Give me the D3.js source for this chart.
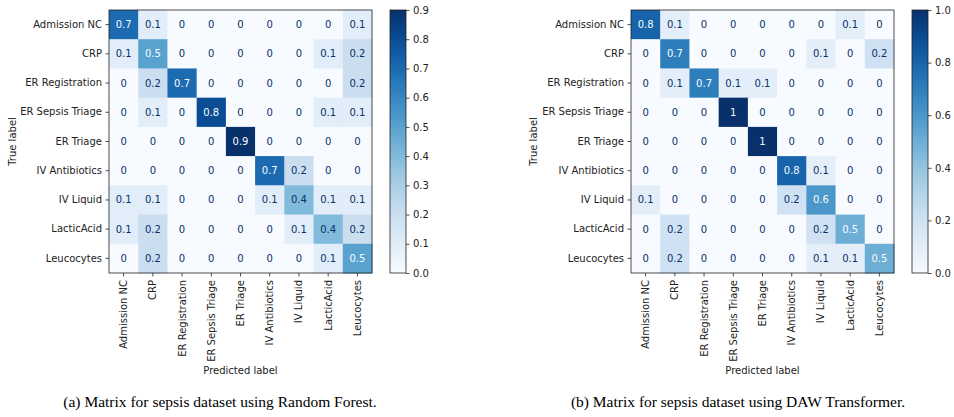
<!DOCTYPE html>
<html>
<head>
<meta charset="utf-8">
<script src="https://cdn.jsdelivr.net/npm/d3@7"></script>
<style>
  body { margin: 0; background: #fff; }
  svg { display: block; }
</style>
</head>
<body>
<div id="vis"></div>
<script>
// Two confusion matrices side by side (sklearn-style, Blues colormap)

const labels = ["Admission NC", "CRP", "ER Registration", "ER Sepsis Triage", "ER Triage",
                "IV Antibiotics", "IV Liquid", "LacticAcid", "Leucocytes"];

// rows = true label, cols = predicted label
const rfMatrix = [
  [0.7, 0.1, 0,   0,   0,   0,   0,   0,   0.1],
  [0.1, 0.5, 0,   0,   0,   0,   0,   0.1, 0.2],
  [0,   0.2, 0.7, 0,   0,   0,   0,   0,   0.2],
  [0,   0.1, 0,   0.8, 0,   0,   0,   0.1, 0.1],
  [0,   0,   0,   0,   0.9, 0,   0,   0,   0  ],
  [0,   0,   0,   0,   0,   0.7, 0.2, 0,   0  ],
  [0.1, 0.1, 0,   0,   0,   0.1, 0.4, 0.1, 0.1],
  [0.1, 0.2, 0,   0,   0,   0,   0.1, 0.4, 0.2],
  [0,   0.2, 0,   0,   0,   0,   0,   0.1, 0.5]
];

const dawMatrix = [
  [0.8, 0.1, 0,   0,   0,   0,   0,   0.1, 0  ],
  [0,   0.7, 0,   0,   0,   0,   0.1, 0,   0.2],
  [0,   0.1, 0.7, 0.1, 0.1, 0,   0,   0,   0  ],
  [0,   0,   0,   1,   0,   0,   0,   0,   0  ],
  [0,   0,   0,   0,   1,   0,   0,   0,   0  ],
  [0,   0,   0,   0,   0,   0.8, 0.1, 0,   0  ],
  [0.1, 0,   0,   0,   0,   0.2, 0.6, 0,   0  ],
  [0,   0.2, 0,   0,   0,   0,   0.2, 0.5, 0  ],
  [0,   0.2, 0,   0,   0,   0,   0.1, 0.1, 0.5]
];

const rfTicks  = [0, 0.1, 0.2, 0.3, 0.4, 0.5, 0.6, 0.7, 0.8, 0.9];
const dawTicks = [0, 0.2, 0.4, 0.6, 0.8, 1.0];

const captions = ["(a) Matrix for sepsis dataset using Random Forest.",
                  "(b) Matrix for sepsis dataset using DAW Transformer."];

const W = 954, H = 417;
const size = 263;           // matrix side in px
const plotTop = 10;
const font = "DejaVu Sans, sans-serif";
const fs = 10;

const svg = d3.select("#vis").append("svg")
  .attr("width", W)
  .attr("height", H);

const defs = svg.append("defs");

function drawPanel(x0, matrix, ticks, vmax, caption, id, ylabelX, captionX) {
  const g = svg.append("g").attr("transform", `translate(${x0},${plotTop})`);

  const x = d3.scaleBand().domain(labels).range([0, size]);
  const y = d3.scaleBand().domain(labels).range([0, size]);
  const color = d3.scaleSequential(d3.interpolateBlues).domain([0, vmax]);
  const thresh = vmax / 2;

  const cells = [];
  matrix.forEach((row, i) => row.forEach((v, j) => cells.push({ r: labels[i], c: labels[j], v })));

  g.selectAll("rect.cell")
    .data(cells)
    .enter().append("rect")
      .attr("class", "cell")
      .attr("x", d => x(d.c))
      .attr("y", d => y(d.r))
      .attr("width", x.bandwidth() + 0.5)
      .attr("height", y.bandwidth() + 0.5)
      .attr("fill", d => color(d.v));

  g.selectAll("text.val")
    .data(cells)
    .enter().append("text")
      .attr("class", "val")
      .attr("x", d => x(d.c) + x.bandwidth() / 2)
      .attr("y", d => y(d.r) + y.bandwidth() / 2)
      .attr("dy", "0.35em")
      .attr("text-anchor", "middle")
      .attr("font-family", font)
      .attr("font-size", fs)
      .attr("fill", d => d.v < thresh ? d3.interpolateBlues(1) : d3.interpolateBlues(0))
      .text(d => d3.format("")(d.v));

  // axes
  const yAxis = g.append("g")
    .call(d3.axisLeft(y).tickSize(3.5).tickPadding(3.5));
  const xAxis = g.append("g")
    .attr("transform", `translate(0,${size})`)
    .call(d3.axisBottom(x).tickSize(3.5).tickPadding(3.5));

  [xAxis, yAxis].forEach(a => {
    a.select(".domain").remove();
    a.selectAll("text").attr("font-family", font).attr("font-size", fs).attr("fill", "#222");
    a.selectAll("line").attr("stroke", "#222").attr("stroke-width", 0.8);
  });
  xAxis.selectAll("text")
    .attr("transform", "rotate(-90)")
    .attr("text-anchor", "end")
    .attr("x", -7)
    .attr("y", 0)
    .attr("dy", "0.35em");

  g.append("rect")
    .attr("width", size).attr("height", size)
    .attr("fill", "none")
    .attr("stroke", "#222")
    .attr("stroke-width", 0.8);

  g.append("text")
    .attr("transform", `translate(${ylabelX - x0},${size / 2}) rotate(-90)`)
    .attr("text-anchor", "middle")
    .attr("dy", "0.35em")
    .attr("font-family", font)
    .attr("font-size", fs)
    .attr("fill", "#222")
    .text("True label");

  g.append("text")
    .attr("x", size / 2)
    .attr("y", 364)
    .attr("text-anchor", "middle")
    .attr("font-family", font)
    .attr("font-size", fs)
    .attr("fill", "#222")
    .text("Predicted label");

  // colorbar
  const cbX = size + 18, cbW = 16;
  const grad = defs.append("linearGradient")
    .attr("id", "grad-" + id)
    .attr("x1", 0).attr("y1", 1).attr("x2", 0).attr("y2", 0);
  d3.range(0, 1.0001, 0.05).forEach(t => {
    grad.append("stop").attr("offset", t).attr("stop-color", d3.interpolateBlues(t));
  });
  g.append("rect")
    .attr("x", cbX).attr("width", cbW).attr("height", size)
    .attr("fill", `url(#grad-${id})`)
    .attr("stroke", "#222")
    .attr("stroke-width", 0.8);

  const cb = d3.scaleLinear().domain([0, vmax]).range([size, 0]);
  const cbAxis = g.append("g")
    .attr("transform", `translate(${cbX + cbW},0)`)
    .call(d3.axisRight(cb).tickValues(ticks).tickFormat(d3.format(".1f")).tickSize(3.5).tickPadding(3.5));
  cbAxis.select(".domain").remove();
  cbAxis.selectAll("text").attr("font-family", font).attr("font-size", fs).attr("fill", "#222");
  cbAxis.selectAll("line").attr("stroke", "#222").attr("stroke-width", 0.8);

  g.append("text")
    .attr("x", captionX - x0)
    .attr("y", 397)
    .attr("text-anchor", "middle")
    .attr("font-family", "Liberation Serif, Times New Roman, serif")
    .attr("font-size", 15.5)
    .attr("fill", "#000")
    .text(caption);
}

drawPanel(109, rfMatrix, rfTicks, 0.9, captions[0], "a", 12, 220);
drawPanel(631, dawMatrix, dawTicks, 1.0, captions[1], "b", 533, 738);
</script>
</body>
</html>
